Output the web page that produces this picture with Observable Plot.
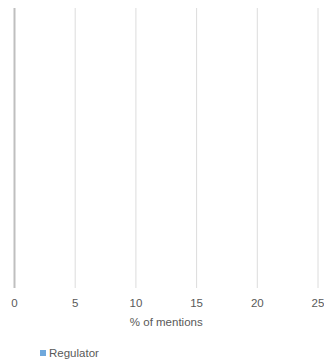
<!DOCTYPE html>
<html>
<head>
<meta charset="utf-8">
<script src="https://cdn.jsdelivr.net/npm/d3@7"></script>
<script src="https://cdn.jsdelivr.net/npm/@observablehq/plot@0.6"></script>
<style>
  html, body { margin: 0; padding: 0; background: #fff; }
  body { width: 324px; height: 362px; overflow: hidden; font-family: "Liberation Sans", Arial, sans-serif; }
  #legend { position: relative; height: 26px; font-size: 11.5px; color: #595959; }
  #legend .item { position: absolute; left: 40px; top: 11px; display: flex; align-items: center; }
  #legend .swatch { width: 6px; height: 6px; margin-right: 3px; }
</style>
</head>
<body>
<div id="chart"></div>
<div id="legend"></div>
<script>
// Series shown in the chart (no mentions recorded for any category)
const categories = [];
const regulator = [];
const seriesName = "Regulator";
const seriesColor = "#6fa8dc";
const xTicks = [0, 5, 10, 15, 20, 25];
const xLabel = "% of mentions";

const rows = categories.map((c, i) => ({category: c, value: regulator[i]}));

const chart = Plot.plot({
  width: 324,
  height: 336,
  marginTop: 8,
  marginLeft: 14,
  marginRight: 6.5,
  marginBottom: 48,
  style: {fontFamily: "Liberation Sans, Arial, sans-serif", fontSize: "11.5px", color: "#595959", background: "#fff"},
  x: {domain: [0, 25]},
  y: {domain: categories, axis: null},
  marks: [
    Plot.ruleX(xTicks.filter(d => d !== 0), {stroke: "#dcdcdc", strokeWidth: 1}),
    Plot.barX(rows, {x: "value", y: "category", fill: seriesColor}),
    Plot.ruleX([0], {stroke: "#bfbfbf", strokeWidth: 2}),
    Plot.axisX({ticks: xTicks, tickSize: 0, tickPadding: 10, label: null}),
    Plot.text([xLabel], {frameAnchor: "bottom", dy: 37, text: d => d, fill: "#595959", fontSize: 11.5})
  ]
});
document.getElementById("chart").appendChild(chart);

const legend = document.getElementById("legend");
const item = document.createElement("div");
item.className = "item";
const sw = document.createElement("span");
sw.className = "swatch";
sw.style.background = seriesColor;
const label = document.createElement("span");
label.textContent = seriesName;
item.appendChild(sw);
item.appendChild(label);
legend.appendChild(item);
</script>
</body>
</html>
